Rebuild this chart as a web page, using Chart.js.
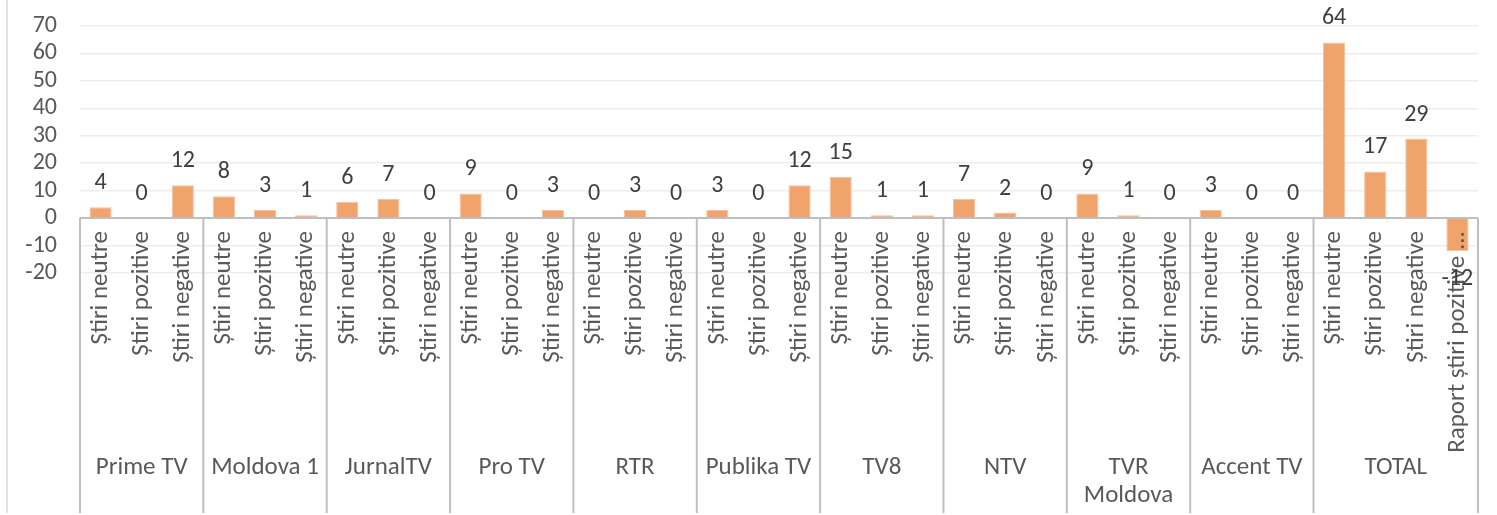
<!DOCTYPE html>
<html>
<head>
<meta charset="utf-8">
<script src="https://cdn.jsdelivr.net/npm/chart.js@4"></script>
<style>
  html, body { margin: 0; padding: 0; background: #fff; }
  #wrap { width: 1497px; height: 515px; position: relative; }
</style>
</head>
<body>
<div id="wrap"><canvas id="newsChart"></canvas></div>
<script>
// data
const channels = ['Prime TV', 'Moldova 1', 'JurnalTV', 'Pro TV', 'RTR', 'Publika TV', 'TV8', 'NTV', 'TVR Moldova', 'Accent TV', 'TOTAL'];
const newsTypes = ['Știri neutre', 'Știri pozitive', 'Știri negative'];
const totalTypes = ['Știri neutre', 'Știri pozitive', 'Știri negative', 'Raport știri pozitive/negative'];
const neutral  = [4, 8, 6, 9, 0, 3, 15, 7, 9, 3, 64];
const positive = [0, 3, 7, 0, 3, 0, 1, 2, 1, 0, 17];
const negative = [12, 1, 0, 3, 0, 12, 1, 0, 0, 0, 29];
const totalRatio = -12;
const yTicks = [-20, -10, 0, 10, 20, 30, 40, 50, 60, 70];

// flatten into one category axis
const labels = [];
const values = [];
const groupOf = [];
channels.forEach((ch, i) => {
  const types = ch === 'TOTAL' ? totalTypes : newsTypes;
  const vals = ch === 'TOTAL' ? [neutral[i], positive[i], negative[i], totalRatio] : [neutral[i], positive[i], negative[i]];
  types.forEach((t, j) => {
    labels.push(t);
    values.push(vals[j]);
    groupOf.push(i);
  });
});

const FONT = "Carlito, Lato, 'Liberation Sans', sans-serif";
const textColor = '#595959';
const axisColor = '#BFBFBF';

function truncate(ctx, text, maxW) {
  if (ctx.measureText(text).width <= maxW) return text;
  let t = text;
  while (t.length && ctx.measureText(t + ' ...').width > maxW) t = t.slice(0, -1);
  return t.trimEnd() + ' ...';
}

function wrap(ctx, text, maxW) {
  if (ctx.measureText(text).width <= maxW) return [text];
  const words = text.split(' ');
  const lines = [];
  let cur = '';
  words.forEach((w) => {
    const test = cur ? cur + ' ' + w : w;
    if (cur && ctx.measureText(test).width > maxW) {
      lines.push(cur);
      cur = w;
    } else {
      cur = test;
    }
  });
  if (cur) lines.push(cur);
  return lines;
}

// category axis, data labels and frame
const axisPlugin = {
  id: 'multiAxis',
  afterDatasetsDraw(chart) {
    const ctx = chart.ctx;
    const xs = chart.scales.x;
    const ys = chart.scales.y;
    const area = chart.chartArea;
    const y0 = ys.getPixelForValue(0);
    const bottom = 513;
    const step = xs.getPixelForValue(1) - xs.getPixelForValue(0);

    ctx.save();

    // outer left border
    ctx.strokeStyle = '#D9D9D9';
    ctx.lineWidth = 1.5;
    ctx.beginPath();
    ctx.moveTo(7, 0);
    ctx.lineTo(7, bottom);
    ctx.stroke();

    // zero line and group separators
    ctx.strokeStyle = axisColor;
    ctx.lineWidth = 2;
    ctx.beginPath();
    ctx.moveTo(area.left, y0);
    ctx.lineTo(area.right, y0);
    for (let i = 0; i <= labels.length; i++) {
      if (i === 0 || i === labels.length || groupOf[i] !== groupOf[i - 1]) {
        const x = i === labels.length ? area.right : xs.getPixelForValue(i) - step / 2;
        ctx.moveTo(x, y0);
        ctx.lineTo(x, bottom);
      }
    }
    ctx.stroke();

    // rotated inner labels
    ctx.fillStyle = textColor;
    ctx.font = '25px ' + FONT;
    ctx.textBaseline = 'middle';
    ctx.textAlign = 'right';
    labels.forEach((lab, i) => {
      const x = xs.getPixelForValue(i);
      ctx.save();
      ctx.translate(x, y0 + 13);
      ctx.rotate(-Math.PI / 2);
      ctx.fillText(truncate(ctx, lab, 226), 0, 0);
      ctx.restore();
    });

    // group labels
    ctx.textAlign = 'center';
    channels.forEach((ch, g) => {
      const idx = groupOf.map((v, i) => (v === g ? i : -1)).filter((i) => i >= 0);
      const left = xs.getPixelForValue(idx[0]) - step / 2;
      const right = xs.getPixelForValue(idx[idx.length - 1]) + step / 2;
      const lines = wrap(ctx, ch, right - left - 8);
      lines.forEach((ln, k) => {
        ctx.fillText(ln, (left + right) / 2, 468 + k * 28);
      });
    });

    // data labels
    ctx.fillStyle = '#404040';
    ctx.font = '24px ' + FONT;
    const meta = chart.getDatasetMeta(0);
    meta.data.forEach((bar, i) => {
      const v = values[i];
      const y = v < 0 ? bar.y + 28 : bar.y - 24;
      ctx.fillText(String(v), bar.x, y);
    });

    ctx.restore();
  }
};

new Chart(document.getElementById('newsChart'), {
  type: 'bar',
  data: {
    labels,
    datasets: [{
      data: values,
      backgroundColor: '#F0A46C',
      borderColor: '#F5C39F',
      borderWidth: 1,
      categoryPercentage: 1,
      barPercentage: 0.54
    }]
  },
  options: {
    responsive: true,
    maintainAspectRatio: false,
    animation: false,
    layout: {
      padding: { top: 26, right: 19, bottom: 242, left: 0 }
    },
    plugins: {
      legend: { display: false },
      tooltip: { enabled: false }
    },
    scales: {
      x: {
        display: false
      },
      y: {
        min: -20,
        max: 70,
        afterBuildTicks(scale) {
          scale.ticks = yTicks.map((v) => ({ value: v }));
        },
        afterFit(scale) {
          scale.width = 80;
          scale.paddingTop = 0;
          scale.paddingBottom = 0;
        },
        border: { display: false },
        grid: { color: '#EDEDED', lineWidth: 1.5, drawTicks: false },
        ticks: {
          autoSkip: false,
          padding: 23,
          color: textColor,
          font: { family: FONT, size: 24 }
        }
      }
    }
  },
  plugins: [axisPlugin]
});
</script>
</body>
</html>
